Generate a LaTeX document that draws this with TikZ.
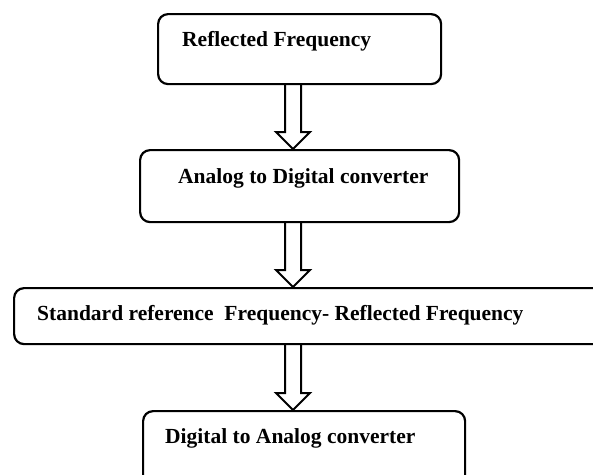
\documentclass[tikz,border=0pt]{standalone}
\usepackage{fontspec}
\setmainfont{Liberation Serif}
\usetikzlibrary{calc}
\begin{document}
\begin{tikzpicture}[x=1pt,y=-1pt,
  box/.style={draw=black, line width=2.2pt, rounded corners=10pt, fill=white,
    inner sep=0pt, anchor=north west},
  lbl/.style={anchor=base west, inner sep=0pt,
    font=\fontsize{21.5}{25}\selectfont\bfseries},
  blockarr/.style={draw=black, line width=2pt, line join=miter}]
\path[use as bounding box, clip] (0,0) rectangle (593,474);
\fill[white] (0,0) rectangle (593,474);
% boxes
\node[box, minimum width=283pt, minimum height=70pt] (b1) at (157,13) {};
\node[box, minimum width=319pt, minimum height=72pt] (b2) at (139,149) {};
\node[box, minimum width=605pt, minimum height=56pt] (b3) at (13,287) {};
\node[box, minimum width=322pt, minimum height=76pt] (b4) at (142,410) {};
% labels
\node[lbl] (t1) at (182,46) {Reflected Frequency};
\node[lbl] (t2) at (178,183) {Analog to Digital converter};
\node[lbl] (t3) at (37,320) {Standard reference\ \ Frequency- Reflected Frequency};
\node[lbl] (t4) at (165,443) {Digital to Analog converter};
% block arrows
\coordinate (ax) at (293,0);
\foreach \a/\b in {b1/b2, b2/b3, b3/b4}{
  \draw[blockarr]
    ($(ax|-\a.south)+(-8,0)$) -- ($(ax|-\b.north)+(-8,-17)$)
    -- ($(ax|-\b.north)+(-17,-17)$) -- (ax|-\b.north)
    -- ($(ax|-\b.north)+(17,-17)$) -- ($(ax|-\b.north)+(8,-17)$)
    -- ($(ax|-\a.south)+(8,0)$);
}
\end{tikzpicture}
\end{document}
